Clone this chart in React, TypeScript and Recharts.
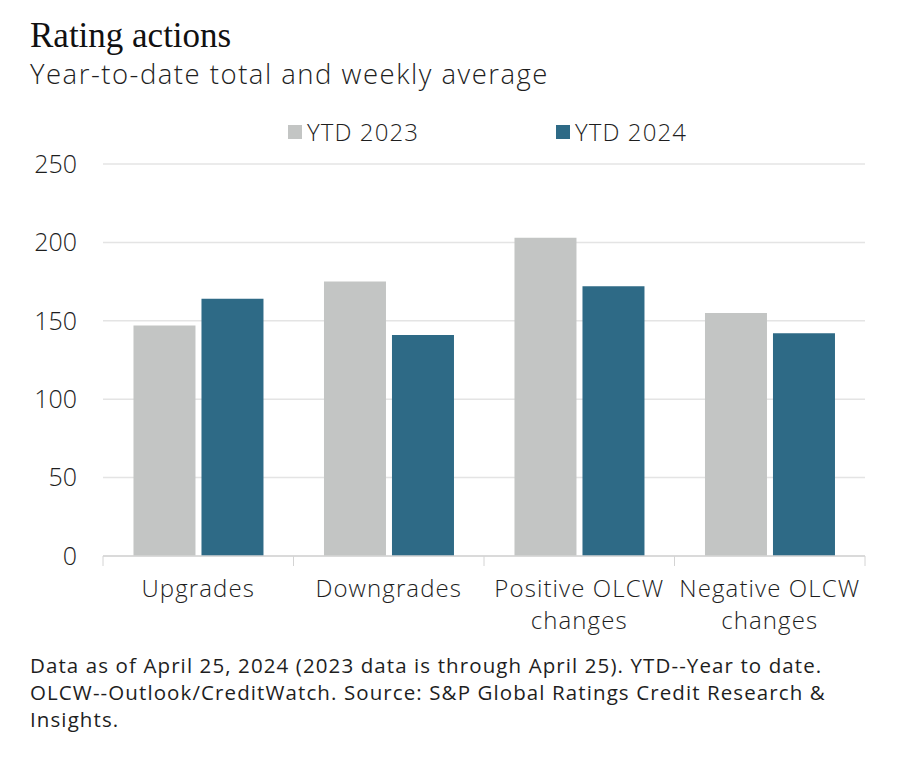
import React from 'react';
import { BarChart, Bar, XAxis, YAxis, CartesianGrid } from 'recharts';

const categories = ['Upgrades', 'Downgrades', 'Positive OLCW changes', 'Negative OLCW changes'];
const tickLabelLines = [['Upgrades'], ['Downgrades'], ['Positive OLCW', 'changes'], ['Negative OLCW', 'changes']];
const ytd2023 = [147, 175, 203, 155];
const ytd2024 = [164, 141, 172, 142];
const yTicks = [0, 50, 100, 150, 200, 250];
const seriesNames = ['YTD 2023', 'YTD 2024'];
const seriesColors = ['#c3c5c4', '#2e6a86'];

const data = categories.map((c, i) => ({ name: c, a: ytd2023[i], b: ytd2024[i] }));

const W = 920;
const H = 778;
const XH = 30;
const M = { top: 164, right: 55, bottom: 222 - XH, left: 30 };
const YW = 73;
const PLOT_W = W - M.left - M.right - YW;
const BAND = PLOT_W / categories.length;

const FONT = '"Open Sans", "Noto Sans", sans-serif';
const TEXT = '#1e1e1e';

const XTick = (props: any) => {
  const { x, y, index } = props;
  const lines = tickLabelLines[index] || [];
  const left = x - BAND / 2;
  const right = x + BAND / 2;
  return (
    <g>
      <line x1={left} y1={y} x2={left} y2={y + 10} stroke="#d4d4d4" strokeWidth={1} />
      {index === categories.length - 1 && (
        <line x1={right} y1={y} x2={right} y2={y + 10} stroke="#d4d4d4" strokeWidth={1} />
      )}
      {lines.map((l, i) => (
        <text
          key={i}
          x={x}
          y={y + 41 + i * 32}
          textAnchor="middle"
          fontFamily={FONT}
          fontWeight={300}
          fontSize={24}
          letterSpacing={1.1}
          fill={TEXT}
        >
          {l}
        </text>
      ))}
    </g>
  );
};

export default function App() {
  return (
    <div style={{ position: 'absolute', left: 0, top: 0, width: W, height: H, background: '#fff' }}>
      <div style={{ position: 'absolute', left: 30, top: 18, fontFamily: '"Liberation Serif", "DejaVu Serif", serif', fontSize: 35, lineHeight: '35px', color: '#111' }}>
        Rating actions
      </div>
      <div style={{ position: 'absolute', left: 30, top: 60, fontFamily: FONT, fontWeight: 300, fontSize: 27.5, letterSpacing: 1.5, lineHeight: '28px', color: TEXT, whiteSpace: 'nowrap' }}>
        Year-to-date total and weekly average
      </div>
      <div style={{ position: 'absolute', left: 0, top: 0 }}>
        <BarChart width={W} height={H} data={data} margin={M} barGap={6} barCategoryGap="16%">
          <CartesianGrid vertical={false} stroke="#e4e4e4" strokeWidth={1.5} />
          <XAxis
            dataKey="name"
            height={XH}
            axisLine={{ stroke: '#d4d4d4', strokeWidth: 1.5 }}
            tickLine={false}
            tickSize={0}
            tickMargin={0}
            interval={0}
            tick={<XTick />}
          />
          <YAxis
            width={YW}
            domain={[0, 250]}
            ticks={yTicks}
            axisLine={false}
            tickLine={false}
            tickSize={0}
            tickMargin={26}
            tick={{ fontFamily: FONT, fontWeight: 300, fontSize: 25, fill: TEXT }}
          />
          <Bar dataKey="a" name={seriesNames[0]} fill={seriesColors[0]} isAnimationActive={false} />
          <Bar dataKey="b" name={seriesNames[1]} fill={seriesColors[1]} isAnimationActive={false} />
        </BarChart>
      </div>
      {seriesNames.map((n, i) => (
        <div
          key={n}
          style={{ position: 'absolute', left: i === 0 ? 288 : 556, top: 116, display: 'flex', alignItems: 'center', fontFamily: FONT, fontWeight: 300, fontSize: 24, letterSpacing: 1.1, lineHeight: '32px', color: TEXT, whiteSpace: 'nowrap' }}
        >
          <span style={{ display: 'inline-block', width: 14, height: 14, background: seriesColors[i], marginRight: 5 }} />
          <span>{n}</span>
        </div>
      ))}
      <div style={{ position: 'absolute', left: 30, top: 652, width: 890, fontFamily: FONT, fontSize: 20.5, letterSpacing: 1.1, lineHeight: '27px', color: TEXT, whiteSpace: 'nowrap' }}>
        Data as of April 25, 2024 (2023 data is through April 25). YTD--Year to date.
        <br />
        OLCW--Outlook/CreditWatch. Source: S&amp;P Global Ratings Credit Research &amp;
        <br />
        Insights.
      </div>
    </div>
  );
}
